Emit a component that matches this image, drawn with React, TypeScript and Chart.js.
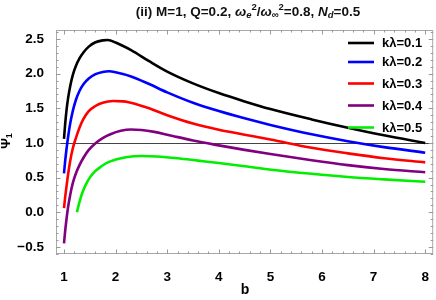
import React, { useEffect, useRef } from "react";
import { Chart, registerables } from "chart.js";

Chart.register(...registerables);

// ---- data ----
const bBlack = [1.0, 1.02, 1.05, 1.08, 1.12, 1.17, 1.23, 1.3, 1.38, 1.48, 1.6, 1.75, 1.85, 2.0, 2.3, 2.65, 3.0, 3.5, 4.0, 4.5, 5.0, 5.8, 6.5, 7.2, 8.0];
const psiBlack = [1.06, 1.25, 1.48, 1.65, 1.82, 1.98, 2.11, 2.22, 2.31, 2.39, 2.45, 2.48, 2.485, 2.45, 2.34, 2.18, 2.03, 1.86, 1.72, 1.6, 1.49, 1.34, 1.22, 1.11, 1.0];

const bBlue = [1.0, 1.02, 1.05, 1.08, 1.12, 1.17, 1.23, 1.3, 1.38, 1.48, 1.6, 1.75, 1.88, 2.0, 2.3, 2.65, 3.0, 3.5, 4.0, 4.5, 5.0, 5.8, 6.5, 7.2, 8.0];
const psiBlue = [0.56, 0.72, 0.92, 1.09, 1.28, 1.46, 1.62, 1.75, 1.85, 1.93, 1.99, 2.025, 2.035, 2.02, 1.96, 1.85, 1.73, 1.58, 1.46, 1.355, 1.26, 1.125, 1.025, 0.94, 0.86];

const bRed = [1.0, 1.02, 1.05, 1.08, 1.12, 1.17, 1.23, 1.3, 1.38, 1.48, 1.6, 1.75, 1.95, 2.15, 2.4, 2.65, 3.0, 3.5, 4.0, 4.5, 5.0, 5.8, 6.5, 7.2, 8.0];
const psiRed = [0.06, 0.2, 0.38, 0.55, 0.74, 0.92, 1.07, 1.22, 1.35, 1.46, 1.53, 1.58, 1.605, 1.6, 1.56, 1.5, 1.4, 1.28, 1.19, 1.12, 1.05, 0.93, 0.85, 0.78, 0.72];

const bPurple = [1.0, 1.02, 1.05, 1.08, 1.12, 1.17, 1.23, 1.3, 1.38, 1.48, 1.6, 1.75, 1.9, 2.1, 2.3, 2.5, 2.75, 3.0, 3.5, 4.0, 4.5, 5.0, 5.8, 6.5, 7.2, 8.0];
const psiPurple = [-0.45, -0.29, -0.09, 0.08, 0.25, 0.42, 0.56, 0.68, 0.79, 0.9, 0.99, 1.07, 1.125, 1.175, 1.195, 1.187, 1.16, 1.12, 1.035, 0.965, 0.9, 0.84, 0.75, 0.68, 0.625, 0.578];

const bGreen = [1.25, 1.28, 1.32, 1.37, 1.43, 1.5, 1.6, 1.72, 1.85, 2.0, 2.2, 2.5, 2.8, 3.2, 3.6, 4.0, 4.5, 5.2, 5.8, 6.5, 7.2, 8.0];
const psiGreen = [0.0, 0.09, 0.2, 0.31, 0.41, 0.5, 0.59, 0.66, 0.72, 0.76, 0.795, 0.812, 0.805, 0.78, 0.745, 0.71, 0.665, 0.6, 0.555, 0.51, 0.475, 0.44];

const seriesLabels = ["kλ=0.1", "kλ=0.2", "kλ=0.3", "kλ=0.4", "kλ=0.5"];
const seriesColors = ["#000000", "#0000ff", "#ff0000", "#800080", "#00ee00"];

const xMajorTicks = [1, 2, 3, 4, 5, 6, 7, 8];
const xTickLabels = ["1", "2", "3", "4", "5", "6", "7", "8"];
const yMajorTicks = [-0.5, 0, 0.5, 1, 1.5, 2, 2.5];
const yTickLabels = ["−0.5", "0.0", "0.5", "1.0", "1.5", "2.0", "2.5"];

const X_MIN = 0.845;
const X_MAX = 8.155;
const Y_MIN = -0.602;
const Y_MAX = 2.63;
const REF_LINE = 1.0;

const FONT = "'Liberation Sans', Arial, sans-serif";

type Seg = { t: string; italic?: boolean; small?: boolean; shift?: number };

const titleSegs: Seg[] = [
  { t: "(ii) M=1, Q=0.2, " },
  { t: "ω", italic: true },
  { t: "e", italic: true, small: true, shift: 3 },
  { t: "2", small: true, shift: -5 },
  { t: "/" },
  { t: "ω", italic: true },
  { t: "∞", small: true, shift: 3 },
  { t: "2", small: true, shift: -5 },
  { t: "=0.8, " },
  { t: "N", italic: true },
  { t: "d", italic: true, small: true, shift: 3 },
  { t: "=0.5" },
];

function segFont(s: Seg, size: number, small: number) {
  return `${s.italic ? "italic " : ""}bold ${s.small ? small : size}px ${FONT}`;
}

function drawRich(ctx: CanvasRenderingContext2D, segs: Seg[], cx: number, cy: number, size: number, small: number) {
  let total = 0;
  for (const s of segs) {
    ctx.font = segFont(s, size, small);
    total += ctx.measureText(s.t).width;
  }
  let x = cx - total / 2;
  ctx.textAlign = "left";
  ctx.textBaseline = "middle";
  for (const s of segs) {
    ctx.font = segFont(s, size, small);
    ctx.fillText(s.t, x, cy + (s.shift || 0));
    x += ctx.measureText(s.t).width;
  }
}

function pts(bs: number[], vs: number[]) {
  return bs.map((b, i) => ({ x: b, y: vs[i] }));
}

const framePlugin = {
  id: "mmaFrame",
  beforeDatasetsDraw(chart: any) {
    const { ctx, chartArea: a, scales } = chart;
    const y = scales.y;
    const py = Math.round(y.getPixelForValue(REF_LINE)) + 0.5;
    ctx.save();
    ctx.strokeStyle = "#444";
    ctx.lineWidth = 1;
    ctx.beginPath();
    ctx.moveTo(a.left, py);
    ctx.lineTo(a.right, py);
    ctx.stroke();
    ctx.restore();
  },
  afterDraw(chart: any) {
    const { ctx, chartArea: a, scales } = chart;
    const x = scales.x;
    const y = scales.y;
    ctx.save();
    // frame
    ctx.strokeStyle = "#a8a8a8";
    ctx.lineWidth = 1;
    ctx.strokeRect(a.left + 0.5, a.top + 0.5, a.right - a.left - 1, a.bottom - a.top - 1);
    // ticks
    ctx.strokeStyle = "#999";
    ctx.beginPath();
    for (const t of x.ticks) {
      const px = Math.round(x.getPixelForValue(t.value)) + 0.5;
      const len = t.major ? 4.5 : 2.5;
      ctx.moveTo(px, a.bottom);
      ctx.lineTo(px, a.bottom - len);
      ctx.moveTo(px, a.top);
      ctx.lineTo(px, a.top + len);
    }
    for (const t of y.ticks) {
      const py = Math.round(y.getPixelForValue(t.value)) + 0.5;
      const len = t.major ? 4.5 : 2.5;
      ctx.moveTo(a.left, py);
      ctx.lineTo(a.left + len, py);
      ctx.moveTo(a.right, py);
      ctx.lineTo(a.right - len, py);
    }
    ctx.stroke();

    // legend
    const rows = [43, 62, 83.5, 105.5, 127.5];
    ctx.font = `bold 13px ${FONT}`;
    ctx.textAlign = "left";
    ctx.textBaseline = "middle";
    seriesLabels.forEach((lab, i) => {
      const ry = rows[i];
      ctx.strokeStyle = seriesColors[i];
      ctx.lineWidth = 2.6;
      ctx.beginPath();
      ctx.moveTo(348, ry);
      ctx.lineTo(374, ry);
      ctx.stroke();
      ctx.fillStyle = "#000";
      ctx.fillText(lab, 382, ry + 0.5);
    });

    // title
    ctx.fillStyle = "#111";
    drawRich(ctx, titleSegs, 248, 12, 13.5, 9.5);

    // x axis title
    ctx.font = `bold 14px ${FONT}`;
    ctx.textAlign = "center";
    ctx.textBaseline = "middle";
    ctx.fillStyle = "#000";
    ctx.fillText("b", 245, 290);

    // y axis title (rotated)
    ctx.translate(6, 141);
    ctx.rotate(-Math.PI / 2);
    drawRich(ctx, [{ t: "Ψ" }, { t: "1", small: true, shift: 4 }], 0, 0, 13, 9);
    ctx.restore();
  },
};

export default function App() {
  const ref = useRef<HTMLCanvasElement | null>(null);
  useEffect(() => {
    if (!ref.current) return;
    const bs = [bBlack, bBlue, bRed, bPurple, bGreen];
    const vs = [psiBlack, psiBlue, psiRed, psiPurple, psiGreen];
    const chart = new Chart(ref.current, {
      type: "line",
      data: {
        datasets: seriesLabels.map((lab, i) => ({
          label: lab,
          data: pts(bs[i], vs[i]),
          borderColor: seriesColors[i],
          backgroundColor: seriesColors[i],
          borderWidth: 2.6,
          pointRadius: 0,
          fill: false,
          cubicInterpolationMode: "monotone" as const,
        })),
      },
      options: {
        responsive: false,
        animation: false,
        layout: { padding: { top: 30, right: 2, left: 0, bottom: 0 } },
        plugins: { legend: { display: false }, title: { display: false }, tooltip: { enabled: false } },
        scales: {
          x: {
            type: "linear",
            min: X_MIN,
            max: X_MAX,
            grid: { display: false },
            border: { display: false },
            afterBuildTicks: (scale: any) => {
              const ticks: any[] = [];
              for (let i = 5; i <= 40; i++) {
                const v = i / 5;
                ticks.push({ value: v, major: xMajorTicks.includes(v) });
              }
              scale.ticks = ticks;
            },
            afterFit: (scale: any) => {
              scale.height = 46;
            },
            ticks: {
              autoSkip: false,
              maxRotation: 0,
              padding: 7,
              color: "#000",
              font: { family: FONT, size: 13.5, weight: "bold" },
              callback: (value: any) => {
                const k = xMajorTicks.indexOf(Number(value));
                return k >= 0 ? xTickLabels[k] : "";
              },
            },
          },
          y: {
            type: "linear",
            min: Y_MIN,
            max: Y_MAX,
            grid: { display: false },
            border: { display: false },
            afterBuildTicks: (scale: any) => {
              const ticks: any[] = [];
              for (let i = -6; i <= 26; i++) {
                const v = i / 10;
                ticks.push({ value: v, major: yMajorTicks.includes(v) });
              }
              scale.ticks = ticks;
            },
            afterFit: (scale: any) => {
              scale.width = 56;
            },
            ticks: {
              autoSkip: false,
              padding: 4,
              color: "#000",
              font: { family: FONT, size: 13.5, weight: "bold" },
              callback: (value: any) => {
                const k = yMajorTicks.indexOf(Number(value));
                return k >= 0 ? yTickLabels[k] : "";
              },
            },
          },
        },
      },
      plugins: [framePlugin],
    } as any);
    return () => chart.destroy();
  }, []);
  return (
    <div style={{ position: "fixed", left: 0, top: 0, width: 436, height: 300, background: "#fff" }}>
      <canvas ref={ref} width={436} height={300} style={{ display: "block" }} />
    </div>
  );
}
